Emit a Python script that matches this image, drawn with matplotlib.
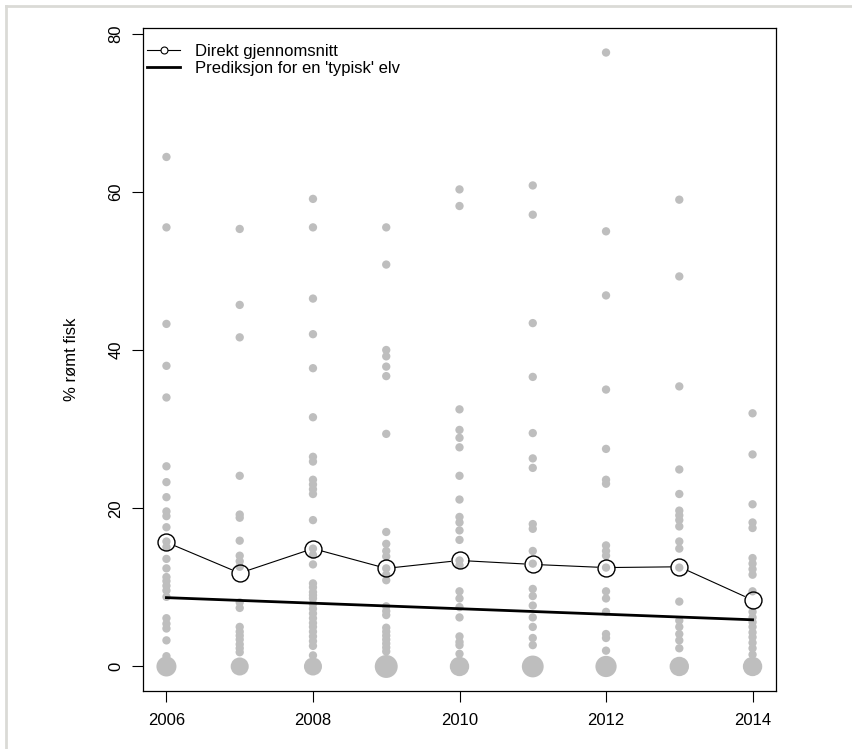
import numpy as np
import matplotlib.pyplot as plt
from matplotlib.lines import Line2D

plt.rcParams['font.family'] = ['Liberation Sans', 'DejaVu Sans']

# År og observasjoner (% rømt fisk per elv, verdier > 0)
years = [2006, 2007, 2008, 2009, 2010, 2011, 2012, 2013, 2014]

pts_2006 = [64.4, 55.5, 43.3, 38.0, 34.0, 25.3, 23.3, 21.4, 19.6, 19.0, 17.6, 15.8, 15.1,
            13.6, 12.4, 11.3, 10.8, 10.2, 9.6, 8.8, 6.1, 5.4, 4.8, 3.3, 1.3]
pts_2007 = [55.3, 45.7, 41.6, 24.1, 19.2, 18.8, 15.9, 14.0, 13.3, 12.6, 8.1, 7.4,
            5.0, 4.4, 3.9, 3.4, 2.8, 2.3, 1.8]
pts_2008 = [59.1, 55.5, 46.5, 42.0, 37.7, 31.5, 26.5, 25.9, 23.6, 23.0, 22.4, 21.8, 18.5,
            14.9, 14.1, 12.9, 10.5, 10.0, 9.4, 9.0, 8.6, 7.9, 7.3, 6.7, 6.1, 5.5, 5.0,
            4.4, 3.8, 3.2, 2.6, 1.4]
pts_2009 = [55.5, 50.8, 40.0, 39.2, 37.9, 36.7, 29.4, 17.0, 15.5, 14.6, 13.9, 12.4, 11.6,
            10.9, 7.6, 7.0, 6.5, 4.9, 4.4, 3.9, 3.4, 2.9, 2.4, 1.9]
pts_2010 = [60.3, 58.2, 32.5, 29.9, 28.9, 27.7, 24.1, 21.1, 18.9, 18.2, 17.2, 16.0, 13.4,
            12.8, 9.5, 8.6, 7.5, 6.2, 3.8, 3.1, 2.7, 1.6]
pts_2011 = [60.8, 57.1, 43.4, 36.6, 29.5, 26.3, 25.1, 18.0, 17.4, 14.6, 13.0, 9.8, 8.9,
            7.7, 6.2, 5.0, 3.6, 2.7]
pts_2012 = [77.6, 55.0, 46.9, 35.0, 27.5, 23.6, 23.1, 15.3, 14.6, 14.0, 12.5, 9.5, 8.6,
            6.9, 4.1, 3.6, 2.0]
pts_2013 = [59.0, 49.3, 35.4, 24.9, 21.8, 19.7, 19.1, 18.5, 17.7, 15.8, 14.9, 12.5, 8.2,
            5.8, 5.0, 4.1, 3.3, 2.3]
pts_2014 = [32.0, 26.8, 20.5, 18.2, 17.5, 13.7, 13.0, 12.3, 11.6, 9.5, 6.9, 6.2, 5.6,
            5.0, 4.3, 3.7, 3.0, 2.3, 1.5]

# antall elver med 0 % (storrelse paa sirkelen ved 0)
zero_counts = [16, 13, 13, 21, 15, 19, 18, 15, 15]

# direkte gjennomsnitt og modellprediksjon
mean_vals = [15.7, 11.8, 14.9, 12.4, 13.4, 12.9, 12.5, 12.6, 8.4]
pred_vals = [8.7, 8.35, 8.0, 7.65, 7.3, 6.95, 6.6, 6.25, 5.9]

all_pts = [pts_2006, pts_2007, pts_2008, pts_2009, pts_2010,
           pts_2011, pts_2012, pts_2013, pts_2014]

W, H = 852, 749
fig = plt.figure(figsize=(W / 100, H / 100), dpi=100)
ax = fig.add_axes([143 / W, 1 - 691 / H, (776 - 143) / W, (691 - 28) / H])

grey = '#BEBEBE'
for yr, pts in zip(years, all_pts):
    ax.scatter([yr] * len(pts), pts, s=36, color=grey, edgecolors='none', zorder=2)
ax.scatter(years, [0] * len(years), s=np.array(zero_counts) * 13, color=grey,
           edgecolors='none', zorder=2)

ax.set_xlim(2005.68, 2014.32)
ax.set_ylim(-3.1, 80.7)

# linje mellom gjennomsnittene med mellomrom ved sirklene (som type="b" i R)
r = 9.0
disp = ax.transData.transform(np.column_stack([years, mean_vals]))
inv = ax.transData.inverted()
for i in range(len(years) - 1):
    p0, p1 = disp[i], disp[i + 1]
    d = p1 - p0
    u = d / np.hypot(*d)
    a = inv.transform(p0 + u * r)
    b = inv.transform(p1 - u * r)
    ax.plot([a[0], b[0]], [a[1], b[1]], color='black', lw=0.8, zorder=3)
ax.plot(years, mean_vals, 'o', ms=12.2, mfc='none', mec='black', mew=1.0, zorder=4)

ax.plot(years, pred_vals, color='black', lw=2.0, zorder=3)

ax.set_xticks([2006, 2008, 2010, 2012, 2014])
ax.set_yticks([0, 20, 40, 60, 80])
ax.tick_params(axis='both', direction='out', length=8, width=0.8, labelsize=12, color='black')
ax.tick_params(axis='x', pad=8)
ax.tick_params(axis='y', pad=6)
for lab in ax.get_yticklabels():
    lab.set_rotation(90)
    lab.set_va('center')
for s in ax.spines.values():
    s.set_linewidth(0.9)
    s.set_color('black')

ax.set_ylabel('% rømt fisk', fontsize=12, va='center')
ax.yaxis.set_label_coords((72 - 143) / (776 - 143), 0.5)

handles = [Line2D([], [], color='black', lw=0.8, marker='o', ms=5, mfc='white', mec='black', mew=0.8),
           Line2D([], [], color='black', lw=2.0)]
ax.legend(handles, ['Direkt gjennomsnitt', "Prediksjon for en 'typisk' elv"],
          loc='upper left', bbox_to_anchor=(147 / W, 1 - 44 / H), bbox_transform=fig.transFigure,
          frameon=False, fontsize=12, handlelength=2.0, handletextpad=0.9,
          borderpad=0, borderaxespad=0, labelspacing=0.1)

# lys grå ramme oppe og til venstre
fig.add_artist(Line2D([5.5 / W, 1], [1 - 5.5 / H, 1 - 5.5 / H], color='#DADAD6', lw=2.0,
                      transform=fig.transFigure))
fig.add_artist(Line2D([5.5 / W, 5.5 / W], [0, 1 - 5.5 / H], color='#DADAD6', lw=2.0,
                      transform=fig.transFigure))

fig.savefig('out.png', dpi=100)
